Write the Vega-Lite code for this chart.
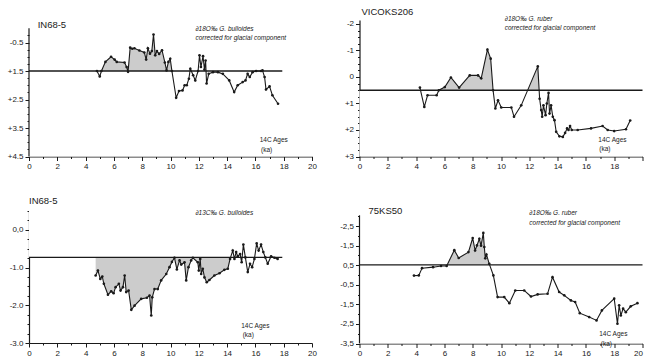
{
  "$schema": "https://vega.github.io/schema/vega-lite/v6.json",
  "padding": {"left": 7, "top": 7, "right": 0, "bottom": 0},
  "background": "white",
  "config": {
    "font": "Liberation Sans",
    "view": {"stroke": null},
    "axis": {"domainColor": "#1a1a1a", "domainWidth": 1.2, "tickColor": "#1a1a1a", "tickWidth": 1, "labelColor": "#1a1a1a", "labelFont": "Liberation Sans", "grid": false, "zindex": 1, "labelPadding": 2, "title": null, "labelBound": false, "labelFlush": false, "labelOverlap": false, "tickCount": 200},
    "text": {"font": "Liberation Sans", "color": "#1a1a1a"}
  },
  "columns": 2,
  "spacing": {"row": 54, "column": 47.5},
  "bounds": "flush",
  "concat": [
    {
      "width": 283, "height": 136.5,
      "data": {"values": [
        {"x": 4.8, "v": 1.5}, {"x": 5.0, "v": 1.69}, {"x": 5.12, "v": 1.5}, {"x": 5.4, "v": 1.18}, {"x": 5.8, "v": 1.0}, {"x": 6.05, "v": 1.1}, {"x": 6.2, "v": 1.18}, {"x": 6.75, "v": 1.2}, {"x": 6.9, "v": 1.36}, {"x": 7.0, "v": 1.53}, {"x": 7.15, "v": 0.68}, {"x": 7.3, "v": 0.72}, {"x": 7.45, "v": 0.7}, {"x": 7.8, "v": 0.78}, {"x": 8.15, "v": 0.85}, {"x": 8.28, "v": 1.1}, {"x": 8.4, "v": 0.7}, {"x": 8.55, "v": 0.89}, {"x": 8.68, "v": 0.8}, {"x": 8.8, "v": 0.22}, {"x": 8.92, "v": 0.95}, {"x": 9.04, "v": 0.8}, {"x": 9.2, "v": 0.9}, {"x": 9.4, "v": 0.77}, {"x": 9.6, "v": 1.2}, {"x": 9.72, "v": 1.48}, {"x": 9.85, "v": 1.18}, {"x": 9.98, "v": 1.07}, {"x": 10.1, "v": 1.5}, {"x": 10.4, "v": 2.44}, {"x": 10.6, "v": 2.2}, {"x": 10.85, "v": 2.18}, {"x": 11.0, "v": 2.0}, {"x": 11.15, "v": 2.0}, {"x": 11.3, "v": 1.77}, {"x": 11.4, "v": 1.42}, {"x": 11.6, "v": 1.65}, {"x": 11.75, "v": 1.83}, {"x": 11.95, "v": 1.5}, {"x": 12.05, "v": 0.95}, {"x": 12.15, "v": 1.36}, {"x": 12.3, "v": 0.98}, {"x": 12.4, "v": 1.45}, {"x": 12.48, "v": 1.13}, {"x": 12.55, "v": 1.94}, {"x": 12.7, "v": 1.6}, {"x": 13.0, "v": 1.54}, {"x": 13.35, "v": 1.54}, {"x": 13.7, "v": 1.6}, {"x": 14.15, "v": 1.83}, {"x": 14.5, "v": 2.24}, {"x": 14.75, "v": 2.0}, {"x": 15.1, "v": 1.89}, {"x": 15.3, "v": 1.83}, {"x": 15.45, "v": 1.6}, {"x": 15.6, "v": 1.71}, {"x": 15.8, "v": 1.54}, {"x": 16.05, "v": 1.5}, {"x": 16.4, "v": 1.5}, {"x": 16.5, "v": 1.48}, {"x": 16.65, "v": 1.71}, {"x": 16.75, "v": 2.15}, {"x": 17.0, "v": 2.04}, {"x": 17.2, "v": 2.35}, {"x": 17.6, "v": 2.65}
      ]},
      "layer": [
        {
          "transform": [{"filter": "datum.x <= 10.2"}],
          "mark": {"type": "area", "color": "#cccccc"},
          "encoding": {
            "x": {"field": "x", "type": "quantitative", "scale": {"domain": [0, 20], "nice": false}, "axis": {"tickCount": 200, "format": "d", "values": [0,1,2,3,4,5,6,7,8,9,10,11,12,13,14,15,16,17,18,19,20], "labelExpr": "datum.value % 2 == 0 ? datum.label : ''", "labelFontSize": 8, "tickSize": {"condition": {"test": "datum.value % 2 == 0", "value": 4}, "value": 2}}},
            "y": {"field": "v", "type": "quantitative", "scale": {"domain": [-0.29, 4.5], "reverse": true, "nice": false, "zero": false}, "axis": {"tickCount": 200, "domain": false, "values": [0.25,0.5,0.75,1,1.25,1.5,1.75,2,2.25,2.5,2.75,3,3.25,3.5,3.75,4,4.25,4.5], "labelExpr": "datum.value == 0.5 ? '-0.5' : ((datum.value - 0.5) % 1 == 0 ? '+' + datum.value : '')", "labelFontSize": 8, "tickSize": {"condition": {"test": "(datum.value - 0.5) % 1 == 0", "value": 4}, "value": 2}}},
            "y2": {"datum": 1.5}
          }
        },
        {"data": {"values": [{}]}, "mark": {"type": "rect", "color": "white"}, "encoding": {"x": {"datum": 0}, "x2": {"datum": 20}, "y": {"datum": 1.5}, "y2": {"datum": 4.5}}},
        {"data": {"values": [{}]}, "mark": {"type": "rule", "color": "#1a1a1a", "strokeWidth": 1.2}, "encoding": {"x": {"datum": 0}, "y": {"datum": 0}, "y2": {"datum": 4.5}}},
        {"data": {"values": [{}]}, "mark": {"type": "rule", "color": "#1a1a1a", "strokeWidth": 1.3}, "encoding": {"x": {"datum": 0}, "x2": {"datum": 17.9}, "y": {"datum": 1.5}}},
        {"mark": {"type": "line", "color": "#1a1a1a", "strokeWidth": 1.1, "point": {"filled": true, "size": 7, "color": "#1a1a1a"}}, "encoding": {"x": {"field": "x", "type": "quantitative"}, "y": {"field": "v", "type": "quantitative"}}},
        {"data": {"values": [{}]}, "mark": {"type": "text", "align": "left", "baseline": "middle", "fontSize": 9.5}, "encoding": {"x": {"datum": 0.61}, "y": {"datum": -0.13}, "text": {"value": "IN68-5"}}},
        {"data": {"values": [{}]}, "mark": {"type": "text", "align": "left", "baseline": "middle", "fontSize": 6.5, "fontStyle": "italic"}, "encoding": {"x": {"datum": 11.76}, "y": {"datum": 0.01}, "text": {"value": "∂18O‰ G. bulloides"}}},
        {"data": {"values": [{}]}, "mark": {"type": "text", "align": "left", "baseline": "middle", "fontSize": 6.5, "fontStyle": "italic"}, "encoding": {"x": {"datum": 11.76}, "y": {"datum": 0.33}, "text": {"value": "corrected for glacial component"}}},
        {"data": {"values": [{}]}, "mark": {"type": "text", "align": "left", "baseline": "middle", "fontSize": 6.5}, "encoding": {"x": {"datum": 16.3}, "y": {"datum": 3.93}, "text": {"value": "14C Ages"}}},
        {"data": {"values": [{}]}, "mark": {"type": "text", "align": "left", "baseline": "middle", "fontSize": 6.5}, "encoding": {"x": {"datum": 16.4}, "y": {"datum": 4.26}, "text": {"value": "(ka)"}}}
      ]
    },
    {
      "width": 283, "height": 136.5,
      "data": {"values": [
        {"x": 4.27, "v": 0.4}, {"x": 4.58, "v": 1.13}, {"x": 4.81, "v": 0.69}, {"x": 5.45, "v": 0.69}, {"x": 5.61, "v": 0.5}, {"x": 6.03, "v": 0.38}, {"x": 6.46, "v": 0.02}, {"x": 7.04, "v": 0.4}, {"x": 7.79, "v": -0.06}, {"x": 8.38, "v": -0.06}, {"x": 8.6, "v": 0.05}, {"x": 9.04, "v": -1.03}, {"x": 9.27, "v": -0.69}, {"x": 9.44, "v": 0.5}, {"x": 9.6, "v": 1.19}, {"x": 9.79, "v": 0.88}, {"x": 10.02, "v": 1.15}, {"x": 10.73, "v": 1.15}, {"x": 10.92, "v": 1.5}, {"x": 11.43, "v": 1.07}, {"x": 12.6, "v": -0.4}, {"x": 12.73, "v": 0.82}, {"x": 12.84, "v": 1.25}, {"x": 12.91, "v": 1.5}, {"x": 13.0, "v": 1.07}, {"x": 13.15, "v": 1.44}, {"x": 13.24, "v": 1.0}, {"x": 13.36, "v": 0.6}, {"x": 13.43, "v": 1.38}, {"x": 13.54, "v": 1.07}, {"x": 13.66, "v": 1.5}, {"x": 13.78, "v": 1.63}, {"x": 13.9, "v": 2.07}, {"x": 14.13, "v": 2.24}, {"x": 14.37, "v": 2.26}, {"x": 14.53, "v": 2.11}, {"x": 14.67, "v": 1.94}, {"x": 14.77, "v": 2.0}, {"x": 14.88, "v": 1.85}, {"x": 15.0, "v": 2.0}, {"x": 15.42, "v": 2.0}, {"x": 16.36, "v": 1.94}, {"x": 17.18, "v": 1.85}, {"x": 17.54, "v": 2.0}, {"x": 18.0, "v": 2.04}, {"x": 18.83, "v": 1.97}, {"x": 19.13, "v": 1.64}
      ]},
      "layer": [
        {
          "mark": {"type": "area", "color": "#cccccc"},
          "encoding": {
            "x": {"field": "x", "type": "quantitative", "scale": {"domain": [0, 20], "nice": false}, "axis": {"tickCount": 200, "format": "d", "values": [0,1,2,3,4,5,6,7,8,9,10,11,12,13,14,15,16,17,18,19,20], "labelExpr": "datum.value % 2 == 0 && datum.value < 20 ? datum.label : ''", "labelFontSize": 8, "tickSize": {"condition": {"test": "datum.value % 2 == 0", "value": 4}, "value": 2}}},
            "y": {"field": "v", "type": "quantitative", "scale": {"domain": [-2.15, 3], "reverse": true, "nice": false, "zero": false}, "axis": {"tickCount": 200, "values": [-2,-1.75,-1.5,-1.25,-1,-0.75,-0.5,-0.25,0,0.25,0.5,0.75,1,1.25,1.5,1.75,2,2.25,2.5,2.75,3], "labelExpr": "datum.value % 1 == 0 ? (datum.value > 0 ? '+' + datum.value : '' + datum.value) : ''", "labelFontSize": 8, "tickSize": {"condition": {"test": "datum.value % 1 == 0", "value": 4}, "value": 2}}},
            "y2": {"datum": 0.5}
          }
        },
        {"data": {"values": [{}]}, "mark": {"type": "rect", "color": "white"}, "encoding": {"x": {"datum": 0}, "x2": {"datum": 20}, "y": {"datum": 0.5}, "y2": {"datum": 3}}},
        {"data": {"values": [{}]}, "mark": {"type": "rule", "color": "#1a1a1a", "strokeWidth": 1.3}, "encoding": {"x": {"datum": 0}, "x2": {"datum": 20}, "y": {"datum": 0.5}}},
        {"mark": {"type": "line", "color": "#1a1a1a", "strokeWidth": 1.1, "point": {"filled": true, "size": 7, "color": "#1a1a1a"}}, "encoding": {"x": {"field": "x", "type": "quantitative"}, "y": {"field": "v", "type": "quantitative"}}},
        {"data": {"values": [{}]}, "mark": {"type": "text", "align": "left", "baseline": "middle", "fontSize": 9.5}, "encoding": {"x": {"datum": 0.14}, "y": {"datum": -2.45}, "text": {"value": "VICOKS206"}}},
        {"data": {"values": [{}]}, "mark": {"type": "text", "align": "left", "baseline": "middle", "fontSize": 6.5, "fontStyle": "italic"}, "encoding": {"x": {"datum": 10.26}, "y": {"datum": -2.2}, "text": {"value": "∂18O‰ G. ruber"}}},
        {"data": {"values": [{}]}, "mark": {"type": "text", "align": "left", "baseline": "middle", "fontSize": 6.5, "fontStyle": "italic"}, "encoding": {"x": {"datum": 10.26}, "y": {"datum": -1.86}, "text": {"value": "corrected for glacial component"}}},
        {"data": {"values": [{}]}, "mark": {"type": "text", "align": "left", "baseline": "middle", "fontSize": 6.5}, "encoding": {"x": {"datum": 16.88}, "y": {"datum": 2.36}, "text": {"value": "14C Ages"}}},
        {"data": {"values": [{}]}, "mark": {"type": "text", "align": "left", "baseline": "middle", "fontSize": 6.5}, "encoding": {"x": {"datum": 16.95}, "y": {"datum": 2.73}, "text": {"value": "(ka)"}}}
      ]
    },
    {
      "width": 283, "height": 132,
      "data": {"values": [
        {"x": 4.71, "v": -1.21}, {"x": 4.87, "v": -1.08}, {"x": 5.04, "v": -1.3}, {"x": 5.18, "v": -1.24}, {"x": 5.29, "v": -1.43}, {"x": 5.58, "v": -1.72}, {"x": 5.81, "v": -1.63}, {"x": 5.98, "v": -1.68}, {"x": 6.12, "v": -1.52}, {"x": 6.35, "v": -1.43}, {"x": 6.47, "v": -1.61}, {"x": 6.64, "v": -1.52}, {"x": 6.76, "v": -1.21}, {"x": 6.87, "v": -1.65}, {"x": 7.04, "v": -1.61}, {"x": 7.23, "v": -2.12}, {"x": 7.46, "v": -2.01}, {"x": 7.93, "v": -1.83}, {"x": 8.33, "v": -1.8}, {"x": 8.52, "v": -1.74}, {"x": 8.64, "v": -2.27}, {"x": 8.71, "v": -1.79}, {"x": 8.87, "v": -1.57}, {"x": 9.1, "v": -1.57}, {"x": 9.34, "v": -1.34}, {"x": 9.7, "v": -1.17}, {"x": 9.93, "v": -0.99}, {"x": 10.1, "v": -0.85}, {"x": 10.28, "v": -0.74}, {"x": 10.45, "v": -1.05}, {"x": 10.64, "v": -0.81}, {"x": 10.76, "v": -0.92}, {"x": 10.99, "v": -0.86}, {"x": 11.11, "v": -1.34}, {"x": 11.27, "v": -0.99}, {"x": 11.46, "v": -0.81}, {"x": 11.58, "v": -0.74}, {"x": 11.93, "v": -0.86}, {"x": 12.0, "v": -1.08}, {"x": 12.1, "v": -0.77}, {"x": 12.17, "v": -1.17}, {"x": 12.28, "v": -1.03}, {"x": 12.4, "v": -1.26}, {"x": 12.56, "v": -1.39}, {"x": 12.75, "v": -1.33}, {"x": 13.1, "v": -1.21}, {"x": 13.46, "v": -1.15}, {"x": 13.81, "v": -1.06}, {"x": 14.05, "v": -1.03}, {"x": 14.21, "v": -0.77}, {"x": 14.4, "v": -0.55}, {"x": 14.52, "v": -0.77}, {"x": 14.64, "v": -0.59}, {"x": 14.75, "v": -0.7}, {"x": 14.92, "v": -0.64}, {"x": 15.03, "v": -0.86}, {"x": 15.15, "v": -0.39}, {"x": 15.29, "v": -0.73}, {"x": 15.46, "v": -1.12}, {"x": 15.62, "v": -0.9}, {"x": 15.77, "v": -0.99}, {"x": 15.93, "v": -0.77}, {"x": 16.09, "v": -0.36}, {"x": 16.23, "v": -0.55}, {"x": 16.4, "v": -0.39}, {"x": 16.56, "v": -0.59}, {"x": 16.7, "v": -0.73}, {"x": 16.87, "v": -0.9}, {"x": 17.11, "v": -0.7}, {"x": 17.34, "v": -0.74}, {"x": 17.57, "v": -0.77}
      ]},
      "layer": [
        {
          "transform": [{"filter": "datum.x <= 14.3"}],
          "mark": {"type": "area", "color": "#cccccc"},
          "encoding": {
            "x": {"field": "x", "type": "quantitative", "scale": {"domain": [0, 20], "nice": false}, "axis": {"tickCount": 200, "format": "d", "values": [0,1,2,3,4,5,6,7,8,9,10,11,12,13,14,15,16,17,18,19,20], "labelExpr": "datum.value % 2 == 0 ? datum.label : ''", "labelFontSize": 8, "tickSize": {"condition": {"test": "datum.value % 2 == 0", "value": 4}, "value": 2}}},
            "y": {"field": "v", "type": "quantitative", "scale": {"domain": [-3, 0.5], "nice": false, "zero": false}, "axis": {"tickCount": 200, "values": [-3,-2.75,-2.5,-2.25,-2,-1.75,-1.5,-1.25,-1,-0.75,-0.5,-0.25,0,0.25,0.5], "labelExpr": "datum.value == 0 ? '0,0' : (datum.value % 1 == 0 ? datum.value + '.0' : '')", "labelFontSize": 8, "tickSize": {"condition": {"test": "datum.value % 1 == 0", "value": 4}, "value": 2}}},
            "y2": {"datum": -0.73}
          }
        },
        {"data": {"values": [{}]}, "mark": {"type": "rect", "color": "white"}, "encoding": {"x": {"datum": 0}, "x2": {"datum": 20}, "y": {"datum": -0.73}, "y2": {"datum": 0.5}}},
        {"data": {"values": [{}]}, "mark": {"type": "rule", "color": "#1a1a1a", "strokeWidth": 1.3}, "encoding": {"x": {"datum": 0}, "x2": {"datum": 17.9}, "y": {"datum": -0.73}}},
        {"mark": {"type": "line", "color": "#1a1a1a", "strokeWidth": 1.1, "point": {"filled": true, "size": 7, "color": "#1a1a1a"}}, "encoding": {"x": {"field": "x", "type": "quantitative"}, "y": {"field": "v", "type": "quantitative"}}},
        {"data": {"values": [{}]}, "mark": {"type": "text", "align": "left", "baseline": "middle", "fontSize": 9.5}, "encoding": {"x": {"datum": 0}, "y": {"datum": 0.76}, "text": {"value": "IN68-5"}}},
        {"data": {"values": [{}]}, "mark": {"type": "text", "align": "left", "baseline": "middle", "fontSize": 6.5, "fontStyle": "italic"}, "encoding": {"x": {"datum": 11.76}, "y": {"datum": 0.44}, "text": {"value": "∂13C‰ G. bulloides"}}},
        {"data": {"values": [{}]}, "mark": {"type": "text", "align": "left", "baseline": "middle", "fontSize": 6.5}, "encoding": {"x": {"datum": 15.0}, "y": {"datum": -2.56}, "text": {"value": "14C Ages"}}},
        {"data": {"values": [{}]}, "mark": {"type": "text", "align": "left", "baseline": "middle", "fontSize": 6.5}, "encoding": {"x": {"datum": 15.1}, "y": {"datum": -2.78}, "text": {"value": "(ka)"}}}
      ]
    },
    {
      "width": 283, "height": 132.5,
      "data": {"values": [
        {"x": 3.85, "v": -0.03}, {"x": 4.19, "v": -0.02}, {"x": 4.42, "v": 0.35}, {"x": 5.2, "v": 0.4}, {"x": 5.76, "v": 0.46}, {"x": 6.16, "v": 0.46}, {"x": 6.7, "v": 1.27}, {"x": 7.01, "v": 0.87}, {"x": 7.7, "v": 1.17}, {"x": 8.0, "v": 1.89}, {"x": 8.17, "v": 1.25}, {"x": 8.3, "v": 1.51}, {"x": 8.47, "v": 1.85}, {"x": 8.59, "v": 1.5}, {"x": 8.75, "v": 2.15}, {"x": 8.82, "v": 1.43}, {"x": 8.89, "v": 0.85}, {"x": 8.97, "v": 1.05}, {"x": 9.17, "v": 0.57}, {"x": 9.46, "v": -0.02}, {"x": 9.76, "v": -1.13}, {"x": 10.23, "v": -1.13}, {"x": 10.59, "v": -1.44}, {"x": 11.01, "v": -0.79}, {"x": 11.64, "v": -0.79}, {"x": 12.12, "v": -1.1}, {"x": 12.59, "v": -0.99}, {"x": 13.29, "v": -0.96}, {"x": 13.64, "v": -0.11}, {"x": 14.11, "v": -0.87}, {"x": 14.47, "v": -1.04}, {"x": 14.94, "v": -1.3}, {"x": 15.24, "v": -1.38}, {"x": 15.57, "v": -1.95}, {"x": 16.23, "v": -2.15}, {"x": 16.75, "v": -2.32}, {"x": 17.13, "v": -1.81}, {"x": 18.0, "v": -1.21}, {"x": 18.23, "v": -2.49}, {"x": 18.35, "v": -1.55}, {"x": 18.47, "v": -2.07}, {"x": 18.63, "v": -1.72}, {"x": 18.82, "v": -1.9}, {"x": 19.17, "v": -1.6}, {"x": 19.64, "v": -1.44}
      ]},
      "layer": [
        {
          "mark": {"type": "area", "color": "#cccccc"},
          "encoding": {
            "x": {"field": "x", "type": "quantitative", "scale": {"domain": [0, 20], "nice": false}, "axis": {"tickCount": 200, "format": "d", "values": [0,1,2,3,4,5,6,7,8,9,10,11,12,13,14,15,16,17,18,19,20], "labelExpr": "datum.value % 2 == 0 ? datum.label : ''", "labelFontSize": 8, "labelAlign": {"condition": {"test": "datum.value == 20", "value": "right"}, "value": "center"}, "tickSize": {"condition": {"test": "datum.value % 2 == 0", "value": 4}, "value": 2}}},
            "y": {"field": "v", "type": "quantitative", "scale": {"domain": [-3.5, 3.27], "nice": false, "zero": false}, "axis": {"tickCount": 200, "domain": false, "values": [-3.5,-3,-2.5,-2,-1.5,-1,-0.5,0,0.5,1,1.5,2,2.5,3], "labelExpr": "datum.value == 2.5 ? '-2,5' : datum.value == 1.5 ? '-1,5' : datum.value == 0.5 ? '0,5' : datum.value == -0.5 ? '-0,5' : datum.value == -1.5 ? '-1,5' : datum.value == -2.5 ? '-2,5' : datum.value == -3.5 ? '-3,5' : ''", "labelFontSize": 8, "tickSize": {"condition": {"test": "indexof([2.5,1.5,0.5,-0.5,-1.5,-2.5,-3.5], datum.value) >= 0", "value": 4}, "value": 2}}},
            "y2": {"datum": 0.52}
          }
        },
        {"data": {"values": [{}]}, "mark": {"type": "rect", "color": "white"}, "encoding": {"x": {"datum": 0}, "x2": {"datum": 20}, "y": {"datum": 0.52}, "y2": {"datum": -3.5}}},
        {"data": {"values": [{}]}, "mark": {"type": "rule", "color": "#1a1a1a", "strokeWidth": 1.2}, "encoding": {"x": {"datum": 0}, "y": {"datum": -3.5}, "y2": {"datum": 3.05}}},
        {"data": {"values": [{}]}, "mark": {"type": "rule", "color": "#1a1a1a", "strokeWidth": 1.3}, "encoding": {"x": {"datum": 0}, "x2": {"datum": 20}, "y": {"datum": 0.52}}},
        {"mark": {"type": "line", "color": "#1a1a1a", "strokeWidth": 1.1, "point": {"filled": true, "size": 7, "color": "#1a1a1a"}}, "encoding": {"x": {"field": "x", "type": "quantitative"}, "y": {"field": "v", "type": "quantitative"}}},
        {"data": {"values": [{}]}, "mark": {"type": "text", "align": "left", "baseline": "middle", "fontSize": 9.5}, "encoding": {"x": {"datum": 0.64}, "y": {"datum": 3.26}, "text": {"value": "75KS50"}}},
        {"data": {"values": [{}]}, "mark": {"type": "text", "align": "left", "baseline": "middle", "fontSize": 6.5, "fontStyle": "italic"}, "encoding": {"x": {"datum": 12.0}, "y": {"datum": 3.16}, "text": {"value": "∂18O‰ G. ruber"}}},
        {"data": {"values": [{}]}, "mark": {"type": "text", "align": "left", "baseline": "middle", "fontSize": 6.5, "fontStyle": "italic"}, "encoding": {"x": {"datum": 12.0}, "y": {"datum": 2.65}, "text": {"value": "corrected for glacial component"}}},
        {"data": {"values": [{}]}, "mark": {"type": "text", "align": "left", "baseline": "middle", "fontSize": 6.5}, "encoding": {"x": {"datum": 16.94}, "y": {"datum": -3.04}, "text": {"value": "14C Ages"}}},
        {"data": {"values": [{}]}, "mark": {"type": "text", "align": "left", "baseline": "middle", "fontSize": 6.5}, "encoding": {"x": {"datum": 17.05}, "y": {"datum": -3.51}, "text": {"value": "(ka)"}}}
      ]
    }
  ]
}
